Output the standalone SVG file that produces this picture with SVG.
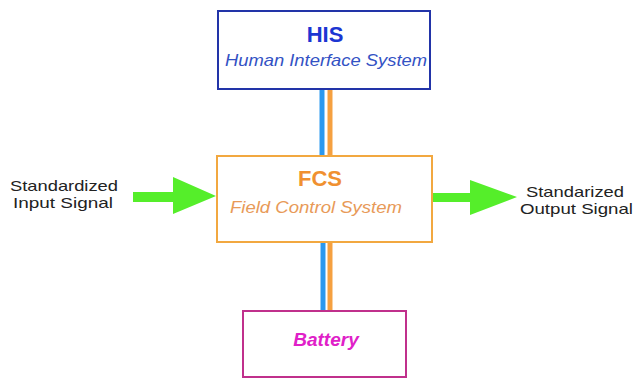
<svg xmlns="http://www.w3.org/2000/svg" width="635" height="379" viewBox="0 0 635 379">
<style>
.t{font-family:"Liberation Sans",Arial,sans-serif}
.lbl{font-size:15px;fill:#222}
.arrow{fill:#55ee2a}
</style>
<rect width="635" height="379" fill="#fff"/>
<g id="connectors">
<line x1="322" y1="89" x2="322" y2="157" stroke="#2a98ee" stroke-width="5"/>
<line x1="330" y1="89" x2="330" y2="157" stroke="#f5a040" stroke-width="5"/>
<line x1="323" y1="242" x2="323" y2="312" stroke="#2a98ee" stroke-width="5"/>
<line x1="330" y1="242" x2="330" y2="312" stroke="#f5a040" stroke-width="5"/>
<polygon class="arrow" points="133,192 173,192 173,177 216,196 173,214 173,202 133,202"/>
<polygon class="arrow" points="432,193 470,193 470,180 517,197 470,215 470,202 432,202"/>
</g>
<g id="his">
<rect x="218" y="11" width="212" height="78" fill="#fff" stroke="#2234a8" stroke-width="2"/>
<text class="t" x="325" y="42" text-anchor="middle" font-size="22" font-weight="bold" fill="#1c36d2">HIS</text>
<text class="t" x="225" y="66" font-size="17" font-style="italic" fill="#3352c4" textLength="202" lengthAdjust="spacingAndGlyphs">Human Interface System</text>
</g>
<g id="fcs">
<rect x="217" y="156" width="215" height="86" fill="#fff" stroke="#f2a840" stroke-width="2"/>
<text class="t" x="320" y="186" text-anchor="middle" font-size="22" font-weight="bold" fill="#f09030">FCS</text>
<text class="t" x="230" y="213" font-size="17" font-style="italic" fill="#e89a58" textLength="172" lengthAdjust="spacingAndGlyphs">Field Control System</text>
</g>
<g id="battery">
<rect x="243" y="311" width="163" height="66" fill="#fff" stroke="#c0308c" stroke-width="2"/>
<text class="t" x="326" y="346" text-anchor="middle" font-size="19" font-weight="bold" font-style="italic" fill="#e020c8">Battery</text>
</g>
<g id="input-label">
<text class="t lbl" x="10" y="191" textLength="108" lengthAdjust="spacingAndGlyphs">Standardized</text>
<text class="t lbl" x="13" y="208" textLength="100" lengthAdjust="spacingAndGlyphs">Input Signal</text>
</g>
<g id="output-label">
<text class="t lbl" x="526" y="197" textLength="98" lengthAdjust="spacingAndGlyphs">Standarized</text>
<text class="t lbl" x="520" y="214" textLength="113" lengthAdjust="spacingAndGlyphs">Output Signal</text>
</g>
</svg>
